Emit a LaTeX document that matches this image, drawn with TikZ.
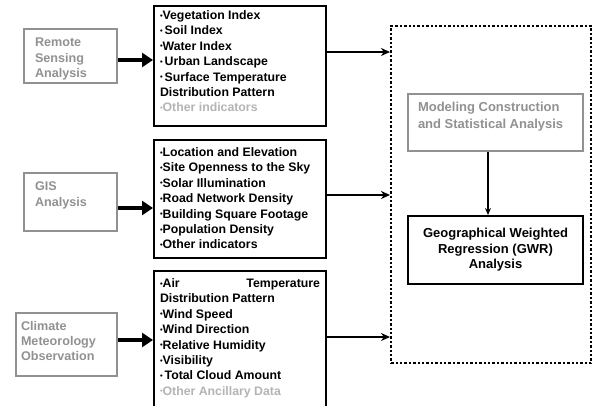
\documentclass[tikz,border=0pt]{standalone}
\usepackage{fontspec}
\setmainfont{Liberation Sans}
\usetikzlibrary{arrows.meta,
	calc,
	positioning}

\definecolor{srcgray}{RGB}{145,145,145}
\definecolor{palegray}{RGB}{180,180,180}
\newcommand{\bul}{{\fontsize{7.5}{7.5}\selectfont\raisebox{0.35ex}{\textbullet}}}
\newcommand{\boxtext}[3]{\parbox[t][#2][t]{#1}{#3}}

\begin{document}
\begin{tikzpicture}[x=1pt,y=-1pt,font=\fontsize{12.3}{15.4}\selectfont\bfseries]
    \tikzstyle{source}=[draw=srcgray,line width=2pt,text=srcgray,anchor=north west,inner xsep=11pt,inner ysep=9pt,align=left,font=\fontsize{12.6}{15.4}\selectfont\bfseries]
    \tikzstyle{factors}=[draw=black,line width=2pt,anchor=north west,inner xsep=6pt,inner ysep=7.5pt,align=left]
    \tikzstyle{thick arrow}=[line width=4.8pt,-{Triangle[length=11pt,width=14pt]}]
    \tikzstyle{thin arrow}=[line width=2.2pt,-{Stealth[length=9pt,width=8pt]}]
    \useasboundingbox (0,0) rectangle (597,405);
    \clip (0,0) rectangle (597,405);
    % data sources
    \node[source] (rs) at (23,28) {\boxtext{71pt}{36pt}{Remote\\Sensing\\Analysis}};
    \node[source] (gis) at (23,172) {\boxtext{71pt}{40pt}{GIS\\Analysis}};
    \node[source,inner xsep=5pt,inner ysep=8pt] (cm) at (15,312) {\boxtext{91pt}{47pt}{Climate\\Meteorology\\Observation}};
    % factor lists
    \node[factors,inner ysep=4.5pt] (l1) at (153,5) {\boxtext{160pt}{111pt}{%
      \bul Vegetation Index\\
      \bul\,Soil Index\\
      \bul Water Index\\
      \bul\,Urban Landscape\\
      \bul\,Surface Temperature\\
      Distribution Pattern\\
      \textcolor{palegray}{\bul Other indicators}}};
    \node[factors] (l2) at (153,139) {\boxtext{160pt}{103pt}{%
      \bul Location and Elevation\\
      \bul Site Openness to the Sky\\
      \bul Solar Illumination\\
      \bul Road Network Density\\
      \bul Building Square Footage\\
      \bul Population Density\\
      \bul Other indicators}};
    \node[factors] (l3) at (153,270) {\boxtext{160pt}{140pt}{%
      \bul Air\hfill Temperature\\
      Distribution Pattern\\
      \bul Wind Speed\\
      \bul Wind Direction\\
      \bul Relative Humidity\\
      \bul Visibility\\
      \bul\,Total Cloud Amount\\
      \textcolor{palegray}{\bul Other Ancillary Data}}};
    % modelling frame
    \node[draw,dotted,line width=2.4pt,anchor=north west,minimum width=200pt,minimum height=337pt] (frame) at (390,25) {};
    \node[draw=srcgray,line width=2pt,text=srcgray,anchor=north west,inner xsep=10pt,inner ysep=8pt,align=left,font=\fontsize{13}{17}\selectfont\bfseries] (model) at (407,93) {\boxtext{155pt}{41pt}{Modeling Construction\\and Statistical Analysis}};
    \node[draw,line width=2pt,anchor=north west,minimum width=175pt,minimum height=68pt,align=center,font=\fontsize{13}{15.4}\selectfont\bfseries] (gwr) at (407,215) {Geographical Weighted\\Regression (GWR)\\Analysis};
    % connectors
    \draw[thick arrow] (rs.east |- 0,60) -- (l1.west |- 0,60);
    \draw[thick arrow] (gis.east |- 0,208) -- (l2.west |- 0,208);
    \draw[thick arrow] (cm.east |- 0,340) -- (l3.west |- 0,340);
    \draw[thin arrow] (l1.east |- 0,52) -- (frame.west |- 0,52);
    \draw[thin arrow] (l2.east |- 0,195) -- (frame.west |- 0,195);
    \draw[thin arrow] (l3.east |- 0,337) -- (frame.west |- 0,337);
    \draw[line width=1.5pt,-{Stealth[length=7pt,width=6pt]}] (model.south -| 488,0) -- (gwr.north -| 488,0);
\end{tikzpicture}
\end{document}
